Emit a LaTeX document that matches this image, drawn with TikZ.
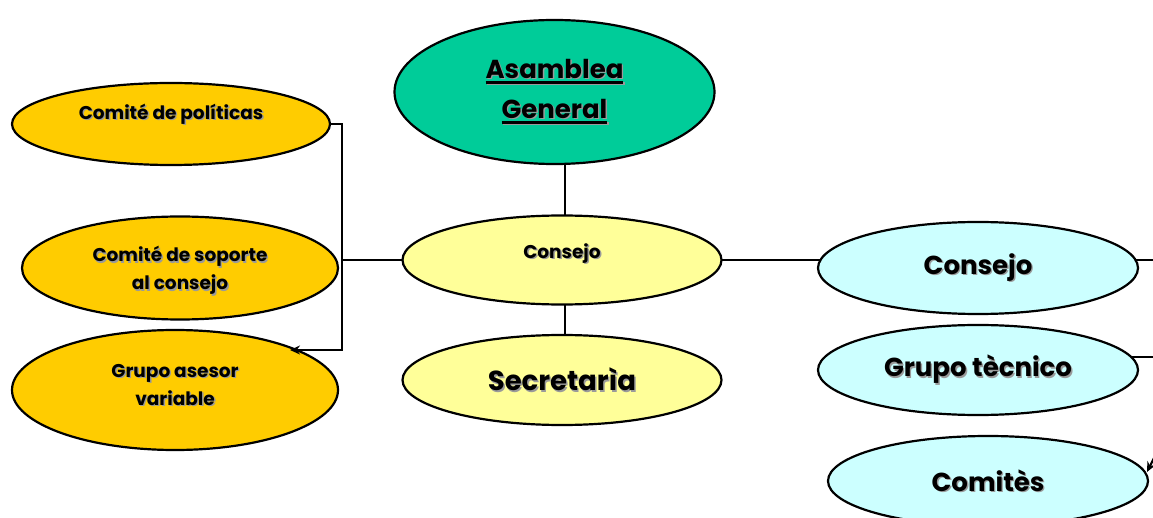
\documentclass[tikz,border=0pt]{standalone}
\usepackage{fontspec}
\setmainfont{Poppins}
\usetikzlibrary{shapes.geometric,arrows.meta,calc}
\definecolor{asamblea}{HTML}{00CC99}
\definecolor{comite}{HTML}{FFCC00}
\definecolor{consejo}{HTML}{FFFF99}
\definecolor{tecnico}{HTML}{CCFFFF}
\definecolor{shadowgray}{HTML}{9A9A9A}
\pgfdeclarelayer{background}
\pgfsetlayers{background,main}
% text with a soft grey drop shadow
\newcommand\shd[1]{\leavevmode\rlap{\color{shadowgray}\kern1.4pt\raisebox{-1.4pt}{#1}}#1}
% heavy underline
\newcommand\ulheavy[1]{\leavevmode\setbox0\hbox{#1}\rlap{\rule[-5.5pt]{\wd0}{2.6pt}}\box0}
% text lifted above the node centre without changing its box
\newcommand\lift[2]{\raisebox{#1}[0pt][0pt]{#2}}
\begin{document}
\begin{tikzpicture}[x=1pt,y=-1pt,
  oval/.style={ellipse,draw=black,line width=2.2pt,inner sep=0pt,align=center,
    font=\bfseries},
  link/.style={line width=2.2pt,line cap=rect},
  tip/.style={-{Stealth[length=10pt,width=9pt]}},
  small/.style={font=\fontsize{18.5}{28}\bfseries\selectfont},
  big/.style={font=\fontsize{26}{40}\bfseries\selectfont}]
\useasboundingbox (0,0) rectangle (1153,518);

% central column
\node[oval,big,fill=asamblea,minimum width=320pt,minimum height=144pt] (ag) at (554.5,92)
  {\shd{\ulheavy{Asamblea}}\\\shd{\ulheavy{General}}};
\node[oval,small,fill=consejo,minimum width=319pt,minimum height=89pt] (cj) at (562,260)
  {\lift{1.5pt}{\shd{Consejo}}};
\node[oval,big,fill=consejo,minimum width=319pt,minimum height=90pt,
  font=\fontsize{27.5}{40}\bfseries\selectfont] (sec) at (562,380)
  {\shd{Secretarìa}};

% committees on the left
\node[oval,small,fill=comite,minimum width=318pt,minimum height=82pt] (pol) at (171,124)
  {\lift{4.5pt}{\shd{Comité de políticas}}};
\node[oval,small,fill=comite,minimum width=316pt,minimum height=103pt] (sop) at (180,268)
  {\lift{-8pt}{\shd{Comité de soporte}}\\\lift{-8pt}{\shd{al consejo}}};
\node[oval,small,fill=comite,minimum width=326pt,minimum height=120pt] (ase) at (175,390)
  {\lift{-1pt}{\shd{Grupo asesor}}\\\lift{-1pt}{\shd{variable}}};

% bodies on the right
\node[oval,big,fill=tecnico,minimum width=320pt,minimum height=92pt] (cr) at (978,268)
  {\shd{Consejo}};
\node[oval,big,fill=tecnico,minimum width=320pt,minimum height=90pt] (gt) at (978,370)
  {\shd{Grupo tècnico}};
\node[oval,big,fill=tecnico,minimum width=320pt,minimum height=90pt] (cm) at (988,481)
  {\shd{Comitès}};

\coordinate (bus) at (342,260);
\coordinate (aseTip) at (290,350);
\coordinate (crOut) at (1156,260);
\coordinate (gtOut) at (1156,357);
\coordinate (cmIn) at (1157,452);

\begin{pgfonlayer}{background}
  \draw[link] (ag.south -| 565,0) -- (cj.north -| 565,0);
  \draw[link] (cj.south -| 565,0) -- (sec.north -| 565,0);
  \draw[link] (cj.west) -- (bus);
  \draw[link] (pol.east) -| (bus);
  \draw[link] (cj.east) -- (cj.east -| cr.center);
  \draw[link] (cr.center |- crOut) -- (crOut);
  \draw[link] (gt.center |- gtOut) -- (gtOut);
\end{pgfonlayer}
\draw[link,tip] (bus) |- (aseTip);
\draw[link,tip] (cmIn) -- ($(cm.center)+(159,-9)$);
\end{tikzpicture}
\end{document}
